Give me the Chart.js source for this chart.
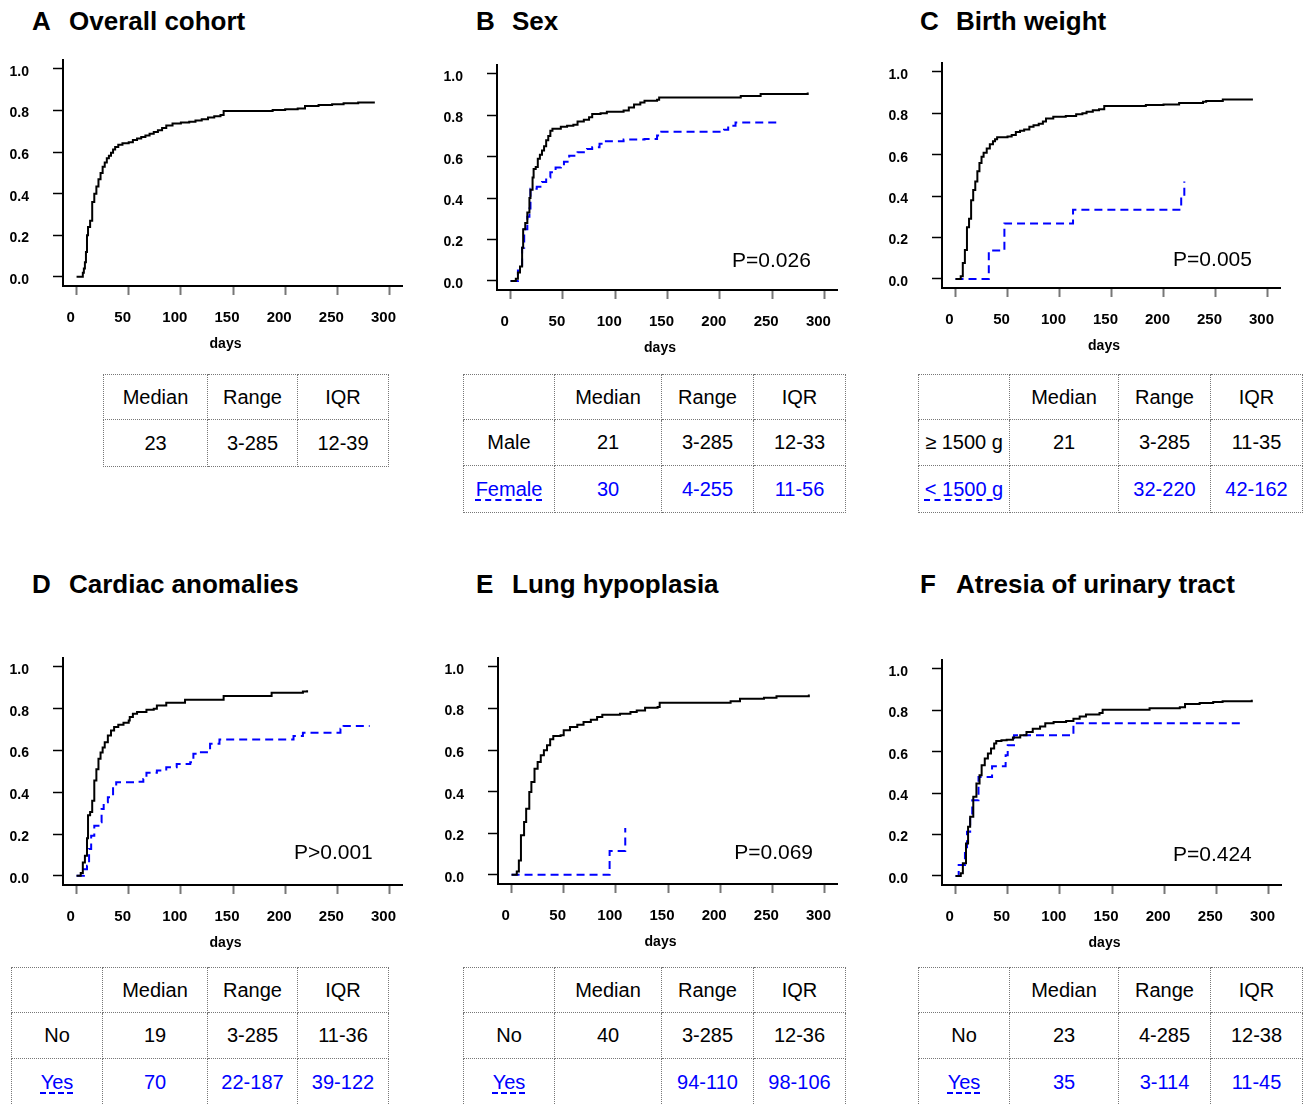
<!DOCTYPE html>
<html>
<head>
<meta charset="utf-8">
<script src="https://cdn.jsdelivr.net/npm/chart.js@4.4.1/dist/chart.umd.min.js"></script>
<style>
  html, body { margin: 0; padding: 0; background: #fff; }
  body {
    position: relative; width: 1304px; height: 1104px; overflow: hidden;
    font-family: "Liberation Sans", Arial, sans-serif; color: #000;
  }
  .head { position: absolute; font-weight: bold; font-size: 26px; line-height: 1; white-space: nowrap; }
  .plot { position: absolute; }
  table.stat { position: absolute; border-collapse: collapse; table-layout: fixed; font-size: 20px; }
  table.stat td { border: 1px dotted #777; text-align: center; vertical-align: middle; padding: 0; white-space: nowrap; overflow: hidden; }
  table.stat tr.grp2 td { color: #0000ff; }
  .key { text-decoration: underline dashed #0000ff; text-decoration-thickness: 1.5px; text-underline-offset: 4px; }
</style>
</head>
<body>
<script>
// ---- axis ticks ----
const X_TICKS = [0, 50, 100, 150, 200, 250, 300];
const Y_TICKS = [0, 0.2, 0.4, 0.6, 0.8, 1.0];

// ---- panel titles ----
const PANEL_LETTERS = ["A", "B", "C", "D", "E", "F"];
const PANEL_TITLES = ["Overall cohort", "Sex", "Birth weight", "Cardiac anomalies", "Lung hypoplasia", "Atresia of urinary tract"];
const P_VALUES = ["", "P=0.026", "P=0.005", "P>0.001", "P=0.069", "P=0.424"];

// ---- cumulative curves (days, cumulative proportion) ----
const overallDays = [0, 4, 6, 7, 8, 9, 10, 11, 13, 15, 17, 19, 21, 23, 25, 27, 29, 31, 33, 35, 37, 40, 44, 50, 54, 58, 62, 66, 70, 74, 78, 82, 86, 92, 100, 108, 114, 120, 126, 132, 138, 141, 188, 200, 212, 219, 232, 245, 256, 270, 285];
const overallCum = [0, 0, 0.02, 0.04, 0.07, 0.12, 0.2, 0.24, 0.27, 0.36, 0.40, 0.435, 0.47, 0.5, 0.53, 0.55, 0.57, 0.582, 0.597, 0.612, 0.625, 0.635, 0.642, 0.648, 0.658, 0.666, 0.673, 0.68, 0.688, 0.697, 0.705, 0.716, 0.728, 0.738, 0.742, 0.746, 0.752, 0.758, 0.766, 0.772, 0.778, 0.798, 0.802, 0.806, 0.81, 0.822, 0.826, 0.83, 0.835, 0.838, 0.843];

const maleDays = [0, 4, 5, 7, 9, 11, 12, 14, 16, 18, 19, 21, 22, 24, 26, 28, 30, 32, 34, 36, 38, 40, 48, 54, 60, 64, 70, 75, 78, 86, 92, 108, 113, 118, 124, 128, 140, 142, 220, 239, 284];
const maleCum = [0, 0, 0.01, 0.04, 0.07, 0.16, 0.25, 0.28, 0.33, 0.4, 0.44, 0.5, 0.54, 0.55, 0.59, 0.61, 0.63, 0.65, 0.68, 0.7, 0.725, 0.735, 0.745, 0.75, 0.754, 0.77, 0.778, 0.79, 0.806, 0.81, 0.817, 0.823, 0.838, 0.852, 0.862, 0.87, 0.875, 0.886, 0.893, 0.903, 0.91];
const femaleDays = [0, 5, 7, 9, 11, 13, 16, 18, 19, 25, 30, 34, 38, 43, 48, 51, 56, 64, 73, 78, 85, 88, 108, 128, 140, 144, 204, 208, 215, 255];
const femaleCum = [0, 0, 0.05, 0.07, 0.16, 0.25, 0.31, 0.35, 0.445, 0.455, 0.478, 0.5, 0.525, 0.548, 0.555, 0.575, 0.605, 0.622, 0.637, 0.646, 0.662, 0.675, 0.683, 0.686, 0.703, 0.72, 0.73, 0.75, 0.765, 0.783];

const bwHighDays = [0, 4, 5, 7, 9, 11, 13, 15, 17, 19, 21, 23, 25, 27, 30, 33, 36, 38, 40, 50, 54, 58, 62, 66, 71, 75, 80, 84, 87, 94, 106, 116, 122, 126, 132, 138, 143, 183, 200, 215, 238, 241, 257, 285];
const bwHighCum = [0, 0, 0.013, 0.077, 0.14, 0.25, 0.29, 0.38, 0.43, 0.47, 0.52, 0.56, 0.59, 0.61, 0.63, 0.65, 0.665, 0.675, 0.684, 0.688, 0.695, 0.71, 0.716, 0.722, 0.735, 0.742, 0.75, 0.76, 0.775, 0.783, 0.787, 0.796, 0.8, 0.807, 0.815, 0.819, 0.835, 0.84, 0.843, 0.85, 0.856, 0.86, 0.867, 0.872];
const bwLowDays = [0, 32, 47, 113, 217, 220];
const bwLowCum = [0, 0.137, 0.268, 0.334, 0.40, 0.47];

const cardNoDays = [0, 3, 4, 6, 8, 10, 11, 13, 15, 17, 19, 21, 23, 25, 27, 30, 33, 36, 40, 45, 50, 51, 54, 58, 67, 74, 77, 86, 104, 141, 187, 217, 221];
const cardNoCum = [0, 0, 0.013, 0.064, 0.096, 0.18, 0.29, 0.305, 0.36, 0.456, 0.51, 0.56, 0.59, 0.615, 0.64, 0.672, 0.696, 0.712, 0.723, 0.733, 0.744, 0.76, 0.776, 0.784, 0.795, 0.8, 0.816, 0.829, 0.843, 0.861, 0.877, 0.883, 0.888];
const cardYesDays = [0, 5, 7, 10, 12, 14, 17, 21, 24, 26, 30, 34, 35, 38, 58, 64, 67, 77, 86, 96, 109, 112, 118, 128, 137, 208, 217, 253, 256, 281];
const cardYesCum = [0, 0, 0.032, 0.048, 0.128, 0.192, 0.24, 0.256, 0.32, 0.352, 0.376, 0.384, 0.432, 0.448, 0.45, 0.464, 0.493, 0.504, 0.52, 0.536, 0.544, 0.584, 0.592, 0.632, 0.653, 0.669, 0.685, 0.704, 0.717, 0.717];

const lungNoDays = [0, 3, 5, 7, 9, 12, 14, 17, 19, 22, 25, 28, 31, 34, 37, 40, 47, 50, 56, 63, 69, 76, 82, 87, 104, 114, 120, 128, 140, 142, 210, 219, 242, 254, 285];
const lungNoCum = [0, 0, 0.016, 0.069, 0.19, 0.254, 0.318, 0.398, 0.446, 0.51, 0.543, 0.575, 0.599, 0.623, 0.652, 0.668, 0.672, 0.695, 0.711, 0.722, 0.735, 0.746, 0.759, 0.77, 0.775, 0.783, 0.791, 0.804, 0.807, 0.828, 0.835, 0.847, 0.852, 0.859, 0.867];
const lungYesDays = [0, 94, 109];
const lungYesCum = [0, 0.115, 0.225];

const urinNoDays = [0, 3, 5, 7, 10, 12, 14, 17, 20, 23, 25, 28, 31, 34, 37, 39, 44, 49, 55, 62, 68, 74, 81, 86, 94, 106, 113, 119, 125, 138, 141, 186, 215, 220, 234, 247, 256, 284];
const urinNoCum = [0, 0, 0.013, 0.061, 0.157, 0.238, 0.286, 0.382, 0.446, 0.486, 0.534, 0.567, 0.591, 0.615, 0.639, 0.652, 0.655, 0.658, 0.668, 0.679, 0.695, 0.711, 0.722, 0.738, 0.743, 0.748, 0.759, 0.77, 0.78, 0.787, 0.803, 0.81, 0.815, 0.831, 0.835, 0.84, 0.844, 0.851];
const urinYesDays = [0, 3, 9, 11, 14, 16, 22, 35, 48, 50, 56, 113, 275];
const urinYesCum = [0, 0.053, 0.11, 0.213, 0.29, 0.366, 0.478, 0.53, 0.583, 0.631, 0.679, 0.738, 0.738];

// ---- summary tables ----
const TABLE_HEAD = ["Median", "Range", "IQR"];
const overallRow = ["23", "3-285", "12-39"];
const sexRows = [["Male", "21", "3-285", "12-33"], ["Female", "30", "4-255", "11-56"]];
const bwRows = [["\u2265 1500 g", "21", "3-285", "11-35"], ["< 1500 g", "", "32-220", "42-162"]];
const cardRows = [["No", "19", "3-285", "11-36"], ["Yes", "70", "22-187", "39-122"]];
const lungRows = [["No", "40", "3-285", "12-36"], ["Yes", "", "94-110", "98-106"]];
const urinRows = [["No", "23", "4-285", "12-38"], ["Yes", "35", "3-114", "11-45"]];

// ---- layout (page pixels of each plot area) ----
const panels = [
  { L: 63, T: 60, R: 402, B: 286, head: [32, 69, 8], curves: [[overallDays, overallCum, 0]], pAt: null },
  { L: 497, T: 65, R: 837, B: 290, head: [476, 512, 8], curves: [[maleDays, maleCum, 0], [femaleDays, femaleCum, 1]], pAt: [287, 0.095] },
  { L: 942, T: 63, R: 1280, B: 288, head: [920, 956, 8], curves: [[bwHighDays, bwHighCum, 0], [bwLowDays, bwLowCum, 1]], pAt: [285, 0.09] },
  { L: 63, T: 658, R: 402, B: 885, head: [32, 69, 571], curves: [[cardNoDays, cardNoCum, 0], [cardYesDays, cardYesCum, 1]], pAt: [284, 0.11] },
  { L: 498, T: 658, R: 837, B: 884, head: [476, 512, 571], curves: [[lungNoDays, lungNoCum, 0], [lungYesDays, lungYesCum, 1]], pAt: [289, 0.105] },
  { L: 942, T: 660, R: 1281, B: 885, head: [920, 956, 571], curves: [[urinNoDays, urinNoCum, 0], [urinYesDays, urinYesCum, 1]], pAt: [284, 0.1] }
];

const tables = [
  { left: 103, top: 374, cols: [104, 90, 91], rows: [45, 47], head: TABLE_HEAD, body: [overallRow] },
  { left: 463, top: 374, cols: [91, 107, 92, 92], rows: [45, 46, 47], head: [""].concat(TABLE_HEAD), body: sexRows },
  { left: 918, top: 374, cols: [91, 109, 92, 92], rows: [45, 46, 47], head: [""].concat(TABLE_HEAD), body: bwRows },
  { left: 11, top: 967, cols: [91, 105, 90, 91], rows: [45, 46, 47], head: [""].concat(TABLE_HEAD), body: cardRows },
  { left: 463, top: 967, cols: [91, 107, 92, 92], rows: [45, 46, 47], head: [""].concat(TABLE_HEAD), body: lungRows },
  { left: 918, top: 967, cols: [91, 109, 92, 92], rows: [45, 46, 47], head: [""].concat(TABLE_HEAD), body: urinRows }
];

const FONT = '"Liberation Sans", Arial, sans-serif';
const AXIS_LEFT = 63, PAD_TOP = 10, PAD_RIGHT = 20, AXIS_BOTTOM = 75;

// draws p-value and "days" label
const textPlugin = {
  id: "panelText",
  afterDraw(chart, args, opts) {
    const { ctx, chartArea, scales } = chart;
    ctx.save();
    ctx.fillStyle = "#000";
    ctx.textBaseline = "middle";
    ctx.textAlign = "center";
    ctx.font = "bold 14px " + FONT;
    ctx.fillText("days", (chartArea.left + chartArea.right) / 2 - 7, chartArea.bottom + 58);
    if (opts.text) {
      ctx.font = "21px " + FONT;
      ctx.textAlign = "right";
      ctx.fillText(opts.text, scales.x.getPixelForValue(opts.at[0]), scales.y.getPixelForValue(opts.at[1]));
    }
    ctx.restore();
  }
};

function lineStyle(group) {
  if (group === 0) return { borderColor: "#000", borderWidth: 2, borderDash: [] };
  return { borderColor: "#0000ff", borderWidth: 2, borderDash: [8, 5] };
}

function makePanel(p, i) {
  const head = document.createElement("div");
  head.className = "head";
  head.style.left = p.head[0] + "px";
  head.style.top = p.head[2] + "px";
  head.textContent = PANEL_LETTERS[i];
  document.body.appendChild(head);
  const title = document.createElement("div");
  title.className = "head";
  title.style.left = p.head[1] + "px";
  title.style.top = p.head[2] + "px";
  title.textContent = PANEL_TITLES[i];
  document.body.appendChild(title);

  const w = p.R - p.L + AXIS_LEFT + PAD_RIGHT;
  const h = p.B - p.T + PAD_TOP + AXIS_BOTTOM;
  const canvas = document.createElement("canvas");
  canvas.className = "plot";
  canvas.width = w;
  canvas.height = h;
  canvas.style.width = w + "px";
  canvas.style.height = h + "px";
  canvas.style.left = (p.L - AXIS_LEFT) + "px";
  canvas.style.top = (p.T - PAD_TOP) + "px";
  document.body.appendChild(canvas);

  const datasets = p.curves.map(c => Object.assign({
    data: c[0].map((d, k) => ({ x: d, y: c[1][k] })),
    stepped: "before",
    fill: false,
    pointRadius: 0,
    tension: 0
  }, lineStyle(c[2])));

  return new Chart(canvas.getContext("2d"), {
    type: "line",
    data: { datasets },
    plugins: [textPlugin],
    options: {
      responsive: false,
      animation: false,
      devicePixelRatio: 1,
      layout: { padding: { top: PAD_TOP, right: PAD_RIGHT, left: 0, bottom: 0 } },
      plugins: {
        legend: { display: false },
        tooltip: { enabled: false },
        panelText: { text: P_VALUES[i], at: p.pAt }
      },
      scales: {
        x: {
          type: "linear",
          min: -13,
          max: 312,
          afterFit(s) {
            s.height = AXIS_BOTTOM;
            s.paddingLeft = 0;
            s.paddingRight = 0;
          },
          afterBuildTicks(s) { s.ticks = X_TICKS.map(v => ({ value: v })); },
          grid: { display: true, drawOnChartArea: false, drawTicks: true, tickLength: 9, tickColor: "#777", tickWidth: 2 },
          border: { display: true, color: "#000", width: 2 },
          ticks: {
            font: { family: FONT, size: 15, weight: "bold" },
            color: "#000",
            padding: 14,
            labelOffset: -6,
            maxRotation: 0,
            autoSkip: false,
            callback: v => String(v)
          }
        },
        y: {
          type: "linear",
          min: -0.044,
          max: 1.043,
          afterFit(s) {
            s.width = AXIS_LEFT;
            s.paddingTop = 0;
            s.paddingBottom = 0;
          },
          afterBuildTicks(s) { s.ticks = Y_TICKS.map(v => ({ value: v })); },
          grid: { display: true, drawOnChartArea: false, drawTicks: true, tickLength: 10, tickColor: "#000", tickWidth: 1.5 },
          border: { display: true, color: "#000", width: 2 },
          ticks: {
            font: { family: FONT, size: 14, weight: "bold" },
            color: "#000",
            padding: 24,
            labelOffset: 3,
            autoSkip: false,
            callback: v => v.toFixed(1)
          }
        }
      }
    }
  });
}

function makeTable(t) {
  const table = document.createElement("table");
  table.className = "stat";
  table.style.left = t.left + "px";
  table.style.top = t.top + "px";
  const total = t.cols.reduce((a, b) => a + b, 0);
  table.style.width = total + "px";
  const colgroup = document.createElement("colgroup");
  t.cols.forEach(cw => {
    const col = document.createElement("col");
    col.style.width = cw + "px";
    colgroup.appendChild(col);
  });
  table.appendChild(colgroup);
  const allRows = [t.head].concat(t.body);
  allRows.forEach((row, r) => {
    const tr = document.createElement("tr");
    tr.style.height = t.rows[r] + "px";
    if (r === 2) tr.className = "grp2";
    row.forEach((cell, c) => {
      const td = document.createElement("td");
      if (r === 2 && c === 0 && t.cols.length === 4) {
        const span = document.createElement("span");
        span.className = "key";
        span.textContent = cell;
        td.appendChild(span);
      } else {
        td.textContent = cell;
      }
      tr.appendChild(td);
    });
    table.appendChild(tr);
  });
  document.body.appendChild(table);
}

panels.forEach(makePanel);
tables.forEach(makeTable);
</script>
</body>
</html>
